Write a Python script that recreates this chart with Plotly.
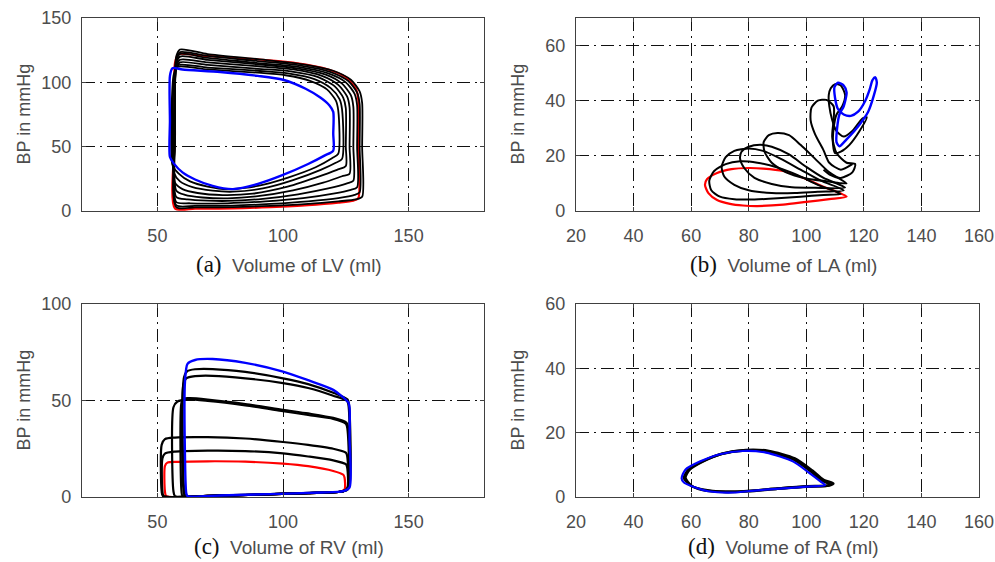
import plotly.graph_objects as go

# ---------------- Panel (a): LV pressure-volume loops ----------------
lv_red_v = [57, 65, 80, 95, 110, 122, 128, 130, 130, 130, 129, 125, 118, 105, 85, 66, 58.5, 57, 57, 57]
lv_red_p = [2, 1.8, 2, 3, 4.5, 6.5, 8, 10, 50, 86, 95, 104, 110, 115, 118.5, 121, 122, 115, 60, 2]

lv_black_v = [
    [57.5, 65, 80, 95, 110, 122, 129, 131.5, 131.5, 131.5, 130.5, 127, 120, 108, 90, 70, 59, 57.5, 57, 57.5],
    [57.5, 65, 80, 95, 110, 122, 128.5, 130.5, 130.5, 130.5, 129.5, 126, 119, 107, 90, 70, 59, 57.5, 57, 57.5],
    [57.5, 63, 78, 93, 108, 120, 127, 129.5, 129.5, 129.5, 128.5, 125, 118, 106, 90, 70, 59, 57.5, 57, 57.5],
    [57.5, 62, 70, 78, 92, 106, 118, 125.5, 128, 128, 128, 127, 123.5, 117, 105, 90, 70, 59, 57.5, 57, 57.5],
    [57.5, 61, 68, 78, 90, 104, 116, 123.5, 126.5, 126.5, 126.5, 125.5, 122, 115.5, 104, 90, 70, 59, 57.5, 57, 57.5],
    [57, 60, 66, 76, 88, 101, 113, 121.5, 125, 125, 125, 124, 120.5, 114, 103, 90, 70, 59, 57.5, 56.5, 57],
    [56.5, 59, 64, 72, 80, 92, 104, 115, 121, 123.5, 123.5, 122.5, 119, 112.5, 102, 90, 70, 58.5, 57, 56, 56.5],
    [56, 58.5, 63, 70, 78, 90, 102, 113, 119.5, 122, 122, 121, 117.5, 111, 101, 90, 70, 58, 56.5, 55.5, 56],
]
lv_black_p = [
    [3, 2.8, 3, 4, 5.5, 7.5, 9, 11, 50, 84, 93, 102, 109, 114, 118, 122, 125.5, 120, 60, 3],
    [4.5, 4, 4.2, 5.5, 7.5, 10, 12.5, 14.5, 50, 83, 92, 101, 108, 113, 116.5, 120.5, 123.5, 118, 60, 4.5],
    [7, 6, 6, 7.5, 10, 13.5, 16.5, 18.5, 50, 82, 91, 100, 107, 112, 115, 119, 122, 116, 60, 7],
    [11, 9, 8, 7.8, 9.5, 13, 17.5, 21.5, 23.5, 50, 81, 90, 99, 106, 111, 114, 117.5, 120, 114, 60, 11],
    [16, 12.5, 10.5, 9.8, 11.5, 16, 22, 27, 29, 50, 80.5, 89, 98, 105, 110, 112.5, 115.5, 117.5, 112, 60, 16],
    [22, 17, 14, 12.4, 13.5, 18.5, 26, 32, 35, 50, 80, 88, 97, 104, 108.5, 110.5, 113.5, 115.5, 110, 60, 22],
    [30, 23, 18.5, 15.8, 15, 17.5, 24, 32, 37.5, 40.5, 79, 87, 95.5, 102.5, 107, 109, 111.5, 113.5, 108, 60, 30],
    [36, 29, 23, 19, 17, 19.5, 26, 34, 41, 44.5, 78, 86, 94.5, 101, 105.5, 107.5, 110, 112, 106, 60, 36],
]
lv_blue_v = [55, 56.5, 60, 65, 72, 80, 90, 100, 110, 116.5, 120, 120, 120, 118.5, 115, 109, 100, 90, 75, 60, 56, 55, 55, 55]
lv_blue_p = [42, 37, 30, 24.5, 19.5, 17, 21, 28, 36.5, 43, 47, 60, 77, 82, 88, 95, 102, 105, 108, 110, 111, 105, 70, 42]

# ---------------- Panel (b): LA pressure-volume loops ----------------
la_red_v = [114, 106, 99, 92, 85, 80, 74, 69, 65.5, 64.8, 66, 69, 73.5, 78, 83, 92, 100, 108, 114]
la_red_p = [5.2, 8.8, 12, 14.5, 15.4, 15.6, 15.2, 13.8, 11.5, 9.5, 6.5, 4, 2.6, 2, 1.8, 2.3, 3.3, 4.3, 5.2]

la_black_v = [
    [112, 104, 97, 90, 83, 77, 72, 68, 66.3, 67, 70, 75, 82, 90, 98, 106, 112],
    [113, 105, 98, 91, 85, 80, 75, 72, 70.6, 71.5, 75, 80, 88, 96, 104, 113],
    [113.5, 106, 100, 94, 88, 84, 80, 77.5, 77, 78.5, 82, 88, 95, 103, 113.5],
    [114, 108, 103, 98, 94, 90, 87, 85.2, 85.5, 88, 93, 100, 107, 114],
    [116, 112, 108, 106, 103, 101.5, 101.8, 104, 107, 109.5, 109.5, 109, 110.5, 114, 117, 116, 112, 108.5, 106],
    [108.5, 110, 112, 113.5, 112.5, 110.5, 109.5, 109.3, 110, 112, 115, 118.5, 121, 119.5, 116, 113, 110.5, 109, 108, 107.8, 108.5],
]
la_black_p = [
    [6.2, 9.5, 13, 15.8, 17.5, 18, 17, 14.5, 11, 7.5, 5.2, 4.3, 4.2, 4.6, 5.2, 5.8, 6.2],
    [7.5, 11, 15, 19, 21.8, 22.7, 21.8, 19.5, 16, 12.5, 9.5, 7.5, 6.5, 6.5, 7, 7.5],
    [8.5, 12, 16, 20.5, 23.3, 24, 23.3, 21.5, 19, 15.5, 12, 9.8, 8.6, 8.4, 8.5],
    [10, 14, 19, 24, 27.5, 28.3, 27.5, 25, 21.5, 17.5, 14, 11.8, 10.8, 10],
    [17, 15, 17.5, 22, 28, 33, 37.5, 40, 40.3, 38, 33, 27, 21, 17.5, 17, 14, 12, 13, 15],
    [44.5, 46, 45.5, 42, 38, 35, 30, 24, 21, 21.5, 24, 29, 34, 33.5, 29, 27, 29, 33, 38, 42, 44.5],
]
la_blue_v = [111, 113, 114, 113, 111.5, 110.7, 110.5, 111.5, 114, 118.6, 121.5, 123.5, 124.5, 124, 123, 122, 120.5, 118, 115.5, 113, 111, 110, 109.8, 111]
la_blue_p = [46.5, 45.5, 43, 38, 35, 30, 25, 23.5, 26, 31.5, 36, 42, 46.5, 48.5, 47.5, 44, 40, 36, 34.5, 35, 37, 41, 45, 46.5]

# ---------------- Panel (c): RV pressure-volume loops ----------------
rv_red_v = [53.5, 70, 90, 110, 122, 124.5, 124.5, 124, 120, 110, 100, 85, 70, 58, 54, 53, 53, 53.5]
rv_red_p = [0.5, 0.6, 1.2, 2, 2.6, 4, 10, 11.5, 13.5, 16, 17.3, 18.3, 18.5, 18.2, 17.8, 16, 3, 0.5]

rv_black_v = [
    [52.5, 70, 90, 110, 122, 125.5, 125.5, 125, 120, 110, 100, 85, 70, 57, 53, 52, 52, 52.5],
    [52.2, 70, 90, 110, 122, 125.5, 125.5, 125, 120, 110, 100, 85, 70, 57, 53, 51.7, 51.7, 52.2],
    [57, 70, 90, 110, 122, 125.5, 125.5, 125, 120, 110, 100, 85, 70, 62, 58, 56.4, 56.4, 57],
    [60, 70, 90, 110, 122, 125.8, 125.8, 125.3, 120, 110, 100, 85, 70, 63, 60.5, 59.6, 59.6, 60],
    [61, 75, 95, 115, 124, 126, 126, 125.5, 120, 110, 100, 85, 72, 65, 61.5, 60.3, 60.3, 61],
    [61.3, 75, 95, 115, 124, 126.2, 126.2, 125.7, 120, 110, 100, 85, 72, 65, 62, 60.6, 60.6, 61.3],
]
rv_black_p = [
    [0.5, 0.6, 1.2, 2, 2.6, 4, 15.5, 17, 19, 21, 22.6, 23.8, 24, 23.5, 22.5, 20, 3, 0.5],
    [0.5, 0.6, 1.2, 2, 2.6, 4, 21.5, 23, 25, 27, 28.5, 30.3, 31, 30.8, 30, 27, 3, 0.5],
    [0.5, 0.6, 1.2, 2, 2.6, 4, 36.4, 38, 40.5, 42.5, 44.5, 47.5, 49.8, 50.5, 49.5, 46.5, 3, 0.5],
    [0.5, 0.6, 1.2, 2, 2.6, 4, 36.8, 38.5, 41, 43.3, 45.2, 48.2, 50.5, 51.2, 51, 49, 3, 0.5],
    [0.5, 0.8, 1.5, 2.3, 3, 5, 48, 49.8, 52.5, 56.5, 59, 61.5, 62.8, 62.6, 61.5, 58, 5, 0.5],
    [0.5, 0.8, 1.5, 2.3, 3, 5, 48.5, 50.5, 54, 58.5, 61.5, 64.8, 66.3, 66.2, 65.3, 62, 5, 0.5],
]
rv_blue_v = [62, 75, 95, 115, 124, 126.5, 126.5, 126.5, 126, 120, 110, 100, 85, 72, 65, 62, 61, 61, 61.5, 62]
rv_blue_p = [0.5, 0.8, 1.5, 2.3, 3, 5, 30, 46, 49, 55.5, 60.5, 65, 69.5, 71.5, 71, 69, 60, 20, 2, 0.5]

# ---------------- Panel (d): RA pressure-volume loops ----------------
ra_black_v = [
    [58, 59.5, 64, 71, 79, 87, 96, 102, 106, 109.4, 108, 100, 90, 80, 72, 64, 60, 58],
    [57.5, 59, 63.5, 70.5, 78.5, 86.5, 95.5, 101.5, 105.5, 108.5, 107, 100, 90, 80, 72, 64, 60, 57.5],
]
ra_black_p = [
    [6, 8.5, 11, 13.5, 14.6, 14.3, 12, 8.3, 5.3, 4.2, 3.6, 3.3, 2.6, 1.8, 1.6, 2.2, 3.6, 6],
    [5.9, 8.4, 10.9, 13.4, 14.5, 14.1, 11.7, 8, 5, 3.9, 3.5, 3.2, 2.6, 1.9, 1.6, 2.3, 3.5, 5.9],
]
ra_blue_v = [56.7, 58, 63, 70, 78, 86, 95.5, 101, 105, 106.5, 100, 92, 82, 74.6, 66, 60.7, 57.5, 56.7]
ra_blue_p = [5.8, 8.5, 11, 13.3, 14.3, 13.8, 11, 7.5, 4.8, 3.7, 3.2, 2.7, 2, 1.4, 1.8, 3.2, 4.5, 5.8]

# ---------------- Axis definitions ----------------
panel_letters = ["(a)", "(b)", "(c)", "(d)"]
panel_xtitles = ["Volume of LV (ml)", "Volume of LA (ml)", "Volume of RV (ml)", "Volume of RA (ml)"]
ytitle = "BP in mmHg"
x_ranges = [[20, 180], [20, 160], [20, 180], [20, 160]]
y_ranges = [[0, 150], [0, 70], [0, 100], [0, 60]]
x_ticks = [[50, 100, 150], [20, 40, 60, 80, 100, 120, 140, 160], [50, 100, 150], [20, 40, 60, 80, 100, 120, 140, 160]]
y_ticks = [[0, 50, 100, 150], [0, 20, 40, 60], [0, 50, 100], [0, 20, 40, 60]]

W, H = 995, 562
boxes = [(82, 484, 18, 211), (576, 979, 18, 211), (82, 484, 304, 497), (576, 979, 304, 497)]
title_offsets = [53, 53, 49, 49]

fig = go.Figure()

BLUE = "#0000ff"
RED = "#ff0000"
BLACK = "#000000"


def add_line(x, y, color, idx, width=2.2):
    suffix = "" if idx == 0 else str(idx + 1)
    fig.add_trace(go.Scatter(
        x=x, y=y, mode="lines",
        line=dict(color=color, width=width, shape="spline", smoothing=0.7),
        xaxis="x" + suffix, yaxis="y" + suffix, showlegend=False, hoverinfo="skip"))


# (a)
add_line(lv_red_v, lv_red_p, RED, 0)
for vv, pp in zip(lv_black_v, lv_black_p):
    add_line(vv, pp, BLACK, 0, 1.8)
add_line(lv_blue_v, lv_blue_p, BLUE, 0, 2.4)
# (b)
add_line(la_red_v, la_red_p, RED, 1)
for vv, pp in zip(la_black_v, la_black_p):
    add_line(vv, pp, BLACK, 1, 2.0)
add_line(la_blue_v, la_blue_p, BLUE, 1, 2.4)
# (c)
add_line(rv_red_v, rv_red_p, RED, 2)
for vv, pp in zip(rv_black_v, rv_black_p):
    add_line(vv, pp, BLACK, 2, 2.2)
add_line(rv_blue_v, rv_blue_p, BLUE, 2, 2.4)
# (d)
for vv, pp in zip(ra_black_v, ra_black_p):
    add_line(vv, pp, BLACK, 3, 2.6)
add_line(ra_blue_v, ra_blue_p, BLUE, 3, 2.2)

TICKFONT = dict(family="Liberation Sans, Arial, sans-serif", size=18, color="#4d4d4d")
GRIDDASH = "13px,5px,2px,5px"

layout = dict(
    width=W, height=H, margin=dict(l=0, r=0, t=0, b=0, autoexpand=False),
    paper_bgcolor="white", plot_bgcolor="white", showlegend=False,
)
annotations = []
for i, (l, r, t, b) in enumerate(boxes):
    suffix = "" if i == 0 else str(i + 1)
    xd = [l / W, r / W]
    yd = [1 - b / H, 1 - t / H]
    common = dict(showline=True, linecolor="#404040", linewidth=1.4, mirror="ticks",
                  ticks="inside", ticklen=4, tickcolor="#404040", tickwidth=1,
                  showgrid=True, gridcolor="#111111", gridwidth=1.2, griddash=GRIDDASH,
                  zeroline=False, tickfont=TICKFONT, automargin=False)
    layout["xaxis" + suffix] = dict(domain=xd, range=x_ranges[i], tickvals=x_ticks[i],
                                    anchor="y" + suffix, ticklabelstandoff=8, **common)
    layout["yaxis" + suffix] = dict(domain=yd, range=y_ranges[i], tickvals=y_ticks[i],
                                    anchor="x" + suffix, ticklabelstandoff=6, **common)
    cx = (l + r) / 2 + 6
    annotations.append(dict(
        x=cx / W, y=1 - (b + title_offsets[i]) / H, xref="paper", yref="paper", showarrow=False,
        xanchor="center", yanchor="middle",
        text=('<span style="font-family:Liberation Serif, Times New Roman, serif;font-size:23px;color:#111">'
              + panel_letters[i] + '</span>  ' + panel_xtitles[i]),
        font=dict(family="Liberation Sans, Arial, sans-serif", size=19, color="#4d4d4d")))
    annotations.append(dict(
        x=(l - 59) / W, y=1 - (t + b) / 2 / H, xref="paper", yref="paper", showarrow=False,
        xanchor="center", yanchor="middle", textangle=-90, text=ytitle,
        font=dict(family="Liberation Sans, Arial, sans-serif", size=18, color="#4d4d4d")))
layout["annotations"] = annotations
fig.update_layout(**layout)

fig.write_html("out.html")
